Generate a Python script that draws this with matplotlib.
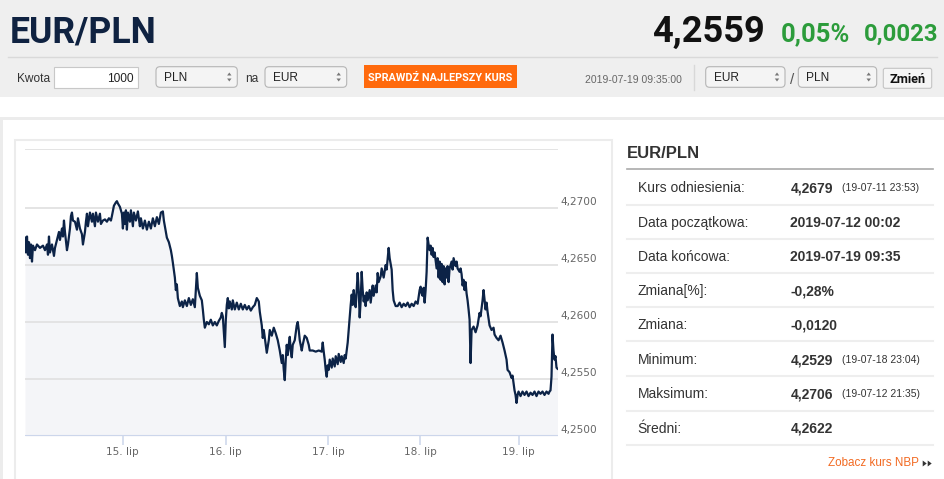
import matplotlib
matplotlib.use('Agg')
import matplotlib.pyplot as plt
from matplotlib.patches import Rectangle, FancyBboxPatch, Polygon
from matplotlib import font_manager

# ---------------- data ----------------
pair_name = 'EUR/PLN'
last_rate = '4,2559'
change_pct = '0,05%'
change_abs = '0,0023'
quote_time = '2019-07-19 09:35:00'

# (ordinal position of quote on the Highcharts ordinal axis, EUR/PLN rate)
jul12 = [(0,4.2674),(1,4.2661),(2,4.2675),(3,4.2659),(4,4.2670),(5,4.2656),(6,4.2668),(7,4.2653),(8,4.2667),
         (10,4.2663),(12,4.2668),(15,4.2665),(18,4.2667),(20,4.2663),(22,4.2668),(23,4.2659),(24,4.2675),
         (25,4.2661),(27,4.2668),(29,4.2658),(30,4.2665),(32,4.2672),(34,4.2679),(35,4.2672),(37,4.2682),
         (38,4.2675),(39,4.2689),(40,4.2679),(42,4.2663),(43,4.2668),(45,4.2682),(46,4.2693),(47,4.2696),
         (48,4.2689),(50,4.2688),(52,4.2681),(53,4.2691),(55,4.2682),(57,4.2677),(58,4.2668),(60,4.2679),
         (61,4.2688),(62,4.2695),(63,4.2684),(65,4.2696),(67,4.2688),(68,4.2695),(70,4.2684),(71,4.2696),
         (73,4.2688),(75,4.2695),(76,4.2686),(78,4.2689),(80,4.2690),(82,4.2688),(84,4.2691),(86,4.2689),
         (87,4.2693),(89,4.2702),(91,4.2705),(92,4.2706),(93,4.2704),(95,4.2701),(97,4.2695)]
jul15 = [(98,4.2682),(99,4.2696),(100,4.2686),(101,4.2698),(102,4.2681),(103,4.2696),(105,4.2688),(106,4.2698),
         (108,4.2684),(109,4.2696),(111,4.2689),(113,4.2697),(115,4.2684),(116,4.2691),(118,4.2682),(120,4.2689),
         (122,4.2681),(124,4.2688),(126,4.2682),(128,4.2691),(130,4.2684),(132,4.2692),(134,4.2686),(136,4.2696),
         (138,4.2697),(139,4.2689),(141,4.2679),(142,4.2674),(144,4.2670),(146,4.2663),(147,4.2658),(148,4.2652),
         (150,4.2639),(151,4.2628),(152,4.2633),(153,4.2621),(155,4.2614),(157,4.2618),(158,4.2613),(160,4.2619),
         (162,4.2614),(164,4.2621),(166,4.2615),(168,4.2620),(170,4.2613),(171,4.2628),(172,4.2643),(173,4.2630),
         (175,4.2623),(177,4.2619),(178,4.2611),(179,4.2602),(180,4.2595),(182,4.2600),(184,4.2598),(186,4.2602),
         (188,4.2597),(190,4.2600),(192,4.2597),(194,4.2601),(196,4.2604),(197,4.2608),(198,4.2605),(199,4.2591),
         (200,4.2578),(201,4.2602)]
jul16 = [(202,4.2615),(203,4.2621),(204,4.2612),(205,4.2618),(207,4.2611),(208,4.2619),(210,4.2611),(212,4.2617),
         (214,4.2611),(216,4.2616),(218,4.2611),(220,4.2615),(222,4.2611),(224,4.2614),(226,4.2610),(228,4.2613),
         (230,4.2615),(232,4.2621),(234,4.2618),(235,4.2609),(237,4.2597),(238,4.2586),(239,4.2593),(241,4.2580),
         (242,4.2573),(244,4.2584),(245,4.2593),(247,4.2588),(249,4.2595),(251,4.2590),(253,4.2584),(255,4.2575),
         (257,4.2564),(258,4.2571),(259,4.2558),(260,4.2549),(261,4.2567),(262,4.2580),(263,4.2571),(264,4.2580),
         (265,4.2587),(266,4.2575),(267,4.2569),(268,4.2580),(270,4.2584),(272,4.2597),(273,4.2600),(274,4.2593),
         (275,4.2584),(277,4.2575),(278,4.2580),(280,4.2588),(282,4.2586),(284,4.2580),(285,4.2575),(288,4.2575),
         (291,4.2574),(294,4.2575),(297,4.2574),(298,4.2582),(299,4.2574),(300,4.2567),(301,4.2558),(302,4.2552),
         (303,4.2562)]
jul17 = [(304,4.2558),(305,4.2567),(307,4.2560),(308,4.2568),(310,4.2561),(311,4.2570),(313,4.2563),(314,4.2572),
         (316,4.2565),(317,4.2570),(319,4.2564),(320,4.2571),(321,4.2568),(322,4.2575),(323,4.2582),(324,4.2593),
         (325,4.2604),(326,4.2615),(327,4.2624),(328,4.2615),(329,4.2628),(330,4.2619),(331,4.2613),(332,4.2628),
         (333,4.2643),(334,4.2628),(335,4.2604),(336,4.2619),(337,4.2644),(338,4.2628),(339,4.2618),(340,4.2623),
         (341,4.2614),(342,4.2626),(343,4.2619),(345,4.2628),(346,4.2617),(348,4.2632),(349,4.2623),(351,4.2632),
         (352,4.2626),(353,4.2643),(354,4.2635),(356,4.2640),(357,4.2647),(359,4.2639),(361,4.2650),(362,4.2646),
         (364,4.2665),(365,4.2656),(367,4.2646),(368,4.2628),(369,4.2619),(371,4.2614),(373,4.2614),(375,4.2617),
         (377,4.2613),(379,4.2616),(381,4.2614),(383,4.2617),(385,4.2613),(387,4.2616),(389,4.2614),(391,4.2618),
         (393,4.2616),(394,4.2622),(395,4.2628)]
jul18 = [(396,4.2631),(397,4.2625),(398,4.2623),(399,4.2630),(400,4.2617),(401,4.2628),(402,4.2644),(403,4.2674),
         (404,4.2668),(405,4.2663),(406,4.2667),(407,4.2659),(408,4.2665),(409,4.2657),(410,4.2661),(412,4.2647),
         (413,4.2656),(414,4.2639),(415,4.2653),(416,4.2637),(417,4.2651),(418,4.2635),(419,4.2649),(420,4.2633),
         (421,4.2647),(422,4.2639),(423,4.2649),(424,4.2635),(425,4.2647),(427,4.2653),(428,4.2646),(429,4.2656),
         (431,4.2649),(432,4.2653),(433,4.2647),(435,4.2644),(436,4.2647),(437,4.2642),(438,4.2632),(439,4.2637),
         (440,4.2628),(441,4.2635),(442,4.2625),(443,4.2619),(444,4.2611),(445,4.2602),(446,4.2564),(447,4.2593),
         (449,4.2596),(451,4.2591),(453,4.2597),(455,4.2608),(456,4.2605),(458,4.2619),(459,4.2628),(460,4.2619),
         (461,4.2611),(462,4.2617),(463,4.2609),(465,4.2597),(467,4.2593),(469,4.2595),(470,4.2589),(472,4.2586),
         (474,4.2584),(476,4.2588),(478,4.2582),(480,4.2575),(482,4.2567),(483,4.2558),(485,4.2556),(487,4.2551),
         (488,4.2553),(490,4.2540),(491,4.2536),(492,4.2529),(493,4.2536)]
jul19 = [(494,4.2539),(496,4.2535),(498,4.2539),(500,4.2536),(502,4.2539),(504,4.2535),(506,4.2538),(508,4.2536),
         (510,4.2539),(512,4.2535),(514,4.2539),(516,4.2537),(518,4.2539),(520,4.2536),(522,4.2539),(524,4.2537),
         (525,4.2539),(526,4.2540),(527,4.2552),(528,4.2589),(529,4.2575),(530,4.2567),(531,4.2570),(532,4.2560),
         (533,4.2559)]

day_labels = ['15. lip', '16. lip', '17. lip', '18. lip', '19. lip']
day_start_pos = [97.7, 201, 303.3, 395.7, 494]
y_ticks = [4.2500, 4.2550, 4.2600, 4.2650, 4.2700]
y_tick_labels = ['4,2500', '4,2550', '4,2600', '4,2650', '4,2700']

table_labels = ['Kurs odniesienia:', 'Data początkowa:', 'Data końcowa:', 'Zmiana[%]:',
                'Zmiana:', 'Minimum:', 'Maksimum:', 'Średni:']
table_values = ['4,2679', '2019-07-12 00:02', '2019-07-19 09:35', '-0,28%',
                '-0,0120', '4,2529', '4,2706', '4,2622']
table_notes = ['(19-07-11 23:53)', '', '', '', '', '(19-07-18 23:04)', '(19-07-12 21:35)', '']

# ---------------- figure ----------------
W, H = 945, 479
fig = plt.figure(figsize=(W / 100, H / 100), dpi=100)
fig.patch.set_facecolor('white')
page = fig.add_axes([0, 0, 1, 1])
page.set_xlim(0, W)
page.set_ylim(H, 0)
page.axis('off')

names = {f.name for f in font_manager.fontManager.ttflist}
def pick(*cands):
    for c in cands:
        if c in names:
            return c
    return 'DejaVu Sans'
NARROW = [pick('Liberation Sans Narrow', 'DejaVu Sans Condensed', 'Roboto', 'Liberation Sans'), 'DejaVu Sans']
ARIAL = [pick('Liberation Sans', 'Arimo', 'DejaVu Sans'), 'DejaVu Sans']
renderer = fig.canvas.get_renderer()

def txt(s, x, y, w=None, size=10, ha='left', va='baseline', family=None, **kw):
    t = page.text(x, y, s, fontsize=size, ha=ha, va=va, family=family or ARIAL, **kw)
    if w:
        bb = t.get_window_extent(renderer=renderer)
        if bb.width > 0:
            t.set_fontsize(size * w / bb.width)
    return t

# header background
page.add_patch(Rectangle((0, 0), W, 97, fc='#efefef', ec='none', zorder=0))
page.plot([8, 937], [56.5, 56.5], color='#d9d9d9', lw=1, zorder=1)
page.add_patch(Rectangle((0, 116.5), W, 3.5, fc='#ececec', ec='none', zorder=0))
page.add_patch(Rectangle((0, 120), 3, H - 120, fc='#ececec', ec='none', zorder=0))

# header texts
txt(pair_name, 10, 42, w=147, size=29, family=NARROW, weight='bold', color='#0f2241')
txt(last_rate, 652, 42, w=113, size=29, family=NARROW, weight='bold', color='#111111')
txt(change_pct, 781, 41, w=69, size=22, family=NARROW, weight='bold', color='#2c9c3b')
txt(change_abs, 864, 41, w=74, size=22, family=NARROW, weight='bold', color='#2c9c3b')

# second row controls
def select(x0, x1, label):
    page.add_patch(FancyBboxPatch((x0, 66.7), x1 - x0, 20.6,
                                  boxstyle='round,pad=0,rounding_size=4',
                                  fc='#f4f4f4', ec='#b5b5b5', lw=0.8, zorder=2))
    txt(label, x0 + 8, 81, size=8.6, color='#222222', zorder=3)
    ax_ = x1 - 8
    page.add_patch(Polygon([[ax_ - 2.2, 75.5], [ax_ + 2.2, 75.5], [ax_, 72.5]], closed=True,
                           fc='#777777', ec='none', zorder=3))
    page.add_patch(Polygon([[ax_ - 2.2, 78.5], [ax_ + 2.2, 78.5], [ax_, 81.5]], closed=True,
                           fc='#777777', ec='none', zorder=3))

txt('Kwota', 17, 82, w=33, size=8.5, color='#333333')
page.add_patch(Rectangle((54, 66.7), 84.3, 21.6, fc='white', ec='#c8c8c8', lw=0.8, zorder=2))
txt('1000', 134, 82, size=8.6, ha='right', color='#222222', zorder=3)
select(156, 237.3, 'PLN')
txt('na', 245.5, 82, size=8.6, color='#333333')
select(265, 346.7, 'EUR')
page.add_patch(Rectangle((364, 64.5), 153, 23.5, fc='#ff6a0d', ec='none', zorder=2))
txt('SPRAWDŹ NAJLEPSZY KURS', 440.5, 80.5, w=144, size=9, ha='center', family=NARROW,
    weight='bold', color='white', zorder=3)
txt(quote_time, 585, 83, w=97, size=7.5, color='#666666')
page.plot([693.5, 693.5], [65, 90], color='#d8d8d8', lw=1, zorder=1)
select(705.7, 785, 'EUR')
txt('/', 790.5, 84, size=11, color='#555555')
select(798.3, 876.7, 'PLN')
page.add_patch(FancyBboxPatch((883.3, 68.3), 48.4, 20, boxstyle='round,pad=0,rounding_size=2',
                              fc='#f5f5f5', ec='#c4c4c4', lw=0.8, zorder=2))
txt('Zmień', 907.5, 83, w=36, size=8.5, ha='center', family=NARROW, weight='bold',
    color='#111111', zorder=3)

# chart box
page.add_patch(Rectangle((15, 140), 597, H - 140 + 5, fc='white', ec='#ececec', lw=1.5, zorder=1))

# ---------------- chart ----------------
series = jul12 + jul15 + jul16 + jul17 + jul18 + jul19
pos = [p for p, _ in series]
rate = [v for _, v in series]

Y_MIN, Y_TOP = 4.25, 4.27515
ax = fig.add_axes([25 / W, 1 - 436 / H, (557.5 - 25) / W, (436 - 149.3) / H])
ax.set_xlim(0, 533)
ax.set_ylim(Y_MIN, Y_TOP)
ax.patch.set_alpha(0)
for s in ax.spines.values():
    s.set_visible(False)

ax.fill_between(pos, rate, Y_MIN, color='#f4f5f8', lw=0, zorder=1)
for v in y_ticks[1:] + [Y_TOP]:
    ax.axhline(v, color='#e2e2e2', lw=1.3, zorder=2)
ax.plot(pos, rate, color='#0c2347', lw=1.6, zorder=3, solid_joinstyle='round')
ax.axhline(Y_MIN, color='#ccd6eb', lw=1.5, zorder=4)

ax.set_xticks(day_start_pos)
ax.set_xticklabels(day_labels)
ax.tick_params(axis='x', direction='out', length=6.5, width=1.1, color='#ccd6eb',
               labelcolor='#666666', labelsize=7.6, pad=1.5)
ax.set_yticks([])
for v, lab in zip(y_ticks, y_tick_labels):
    ax.annotate(lab, xy=(1, v), xycoords=('axes fraction', 'data'), xytext=(3, 6),
                textcoords='offset pixels', ha='left', va='center', fontsize=7.6,
                color='#666666', family='DejaVu Sans', annotation_clip=False)

# ---------------- right table ----------------
txt(pair_name, 627, 157.5, w=73, size=12, weight='bold', color='#333333')
page.plot([627, 933], [169.3, 169.3], color='#aaaaaa', lw=1.2, zorder=2)
row_centers = [187.3, 221.7, 256, 290, 324, 359.3, 393.3, 427.7]
row_lines = [205, 239, 272.7, 306.7, 340.7, 375.7, 411, 445]
for yc, lab, val, note in zip(row_centers, table_labels, table_values, table_notes):
    txt(lab, 637.5, yc + 5, size=10, color='#333333')
    txt(val, 790.5, yc + 5, size=10, weight='bold', color='#333333')
    if note:
        txt(note, 841.7, yc + 4, size=7.5, color='#333333')
for yl in row_lines:
    page.plot([627, 933], [yl, yl], color='#eeeeee', lw=1.5, zorder=2)

txt('Zobacz kurs NBP', 828, 466.5, w=91, size=8.4, color='#f26a22')
for xa in (924.5, 929.5):
    page.add_patch(Polygon([[xa - 1.8, 460.5], [xa - 1.8, 466.5], [xa + 2.2, 463.5]], closed=True,
                           fc='#333333', ec='none', zorder=3))

fig.savefig('out.png', dpi=100, facecolor='white')
